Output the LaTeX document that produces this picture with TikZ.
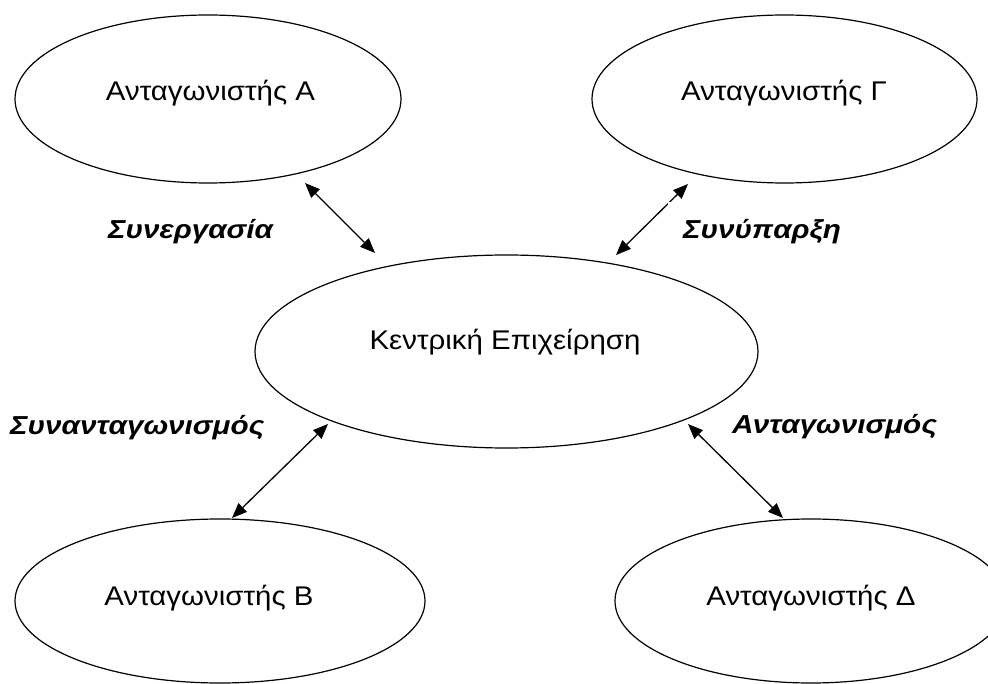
\documentclass[tikz,border=0pt]{standalone}
\usepackage{fontspec}
\setmainfont[FakeStretch=1.09]{Liberation Sans}
\newfontfamily\relfont[FakeStretch=1.14]{Liberation Sans}
\usetikzlibrary{arrows.meta,shapes.geometric}

\tikzset{
  firm/.style={draw=black, line width=1.2pt, ellipse, inner sep=0pt},
  firmtext/.style={anchor=base, inner sep=0pt, font=\fontsize{27}{30}\selectfont},
  relation/.style={anchor=base west, inner sep=0pt, font=\relfont\fontsize{26}{30}\selectfont\bfseries\itshape},
  link/.style={line width=1.3pt, {Triangle[length=15pt,width=12pt]}-{Triangle[length=15pt,width=12pt]}}
}

\begin{document}
\begin{tikzpicture}[x=1pt, y=-1pt]
  \useasboundingbox (0,0) rectangle (988,684);
  \clip (0,0) rectangle (988,684);

  % competitors and the central firm
  \node[firm, minimum width=386pt, minimum height=168pt] (a) at (208,99) {};
  \node[firm, minimum width=385pt, minimum height=168pt] (g) at (784.5,99) {};
  \node[firm, minimum width=503pt, minimum height=193pt] (c) at (506.5,351.5) {};
  \node[firm, minimum width=410pt, minimum height=164pt] (b) at (220,601) {};
  \node[firm, minimum width=392pt, minimum height=164pt] (d) at (811,601) {};

  \node[firmtext] (ta) at (210.5,101) {Ανταγωνιστής Α};
  \node[firmtext] (tg) at (784,101) {Ανταγωνιστής Γ};
  \node[firmtext] (tc) at (505,350) {Κεντρική Επιχείρηση};
  \node[firmtext] (tb) at (209,605) {Ανταγωνιστής Β};
  \node[firmtext] (td) at (811,605) {Ανταγωνιστής Δ};

  % arrow end points next to the ellipses
  \coordinate (a-end) at (305,183);
  \coordinate (c-a)   at (375,253);
  \coordinate (g-end) at (688,184);
  \coordinate (c-g)   at (616,255);
  \coordinate (c-b)   at (328,424);
  \coordinate (b-end) at (232,518);
  \coordinate (c-d)   at (688,424);
  \coordinate (d-end) at (783,518);

  \draw[link] (a-end) -- (c-a);
  \draw[link] (g-end) -- (c-g);
  \draw[link] (c-b) -- (b-end);
  \draw[link] (c-d) -- (d-end);

  % relation labels
  \node[relation] (r1) at (108,239) {Συνεργασία};
  \fill[white] (668,202) rectangle (928,273);
  \node[relation] (r2) at (683,239) {Συνύπαρξη};
  \node[relation] (r3) at (10,435) {Συνανταγωνισμός};
  \node[relation] (r4) at (732,433) {Ανταγωνισμός};
\end{tikzpicture}
\end{document}
